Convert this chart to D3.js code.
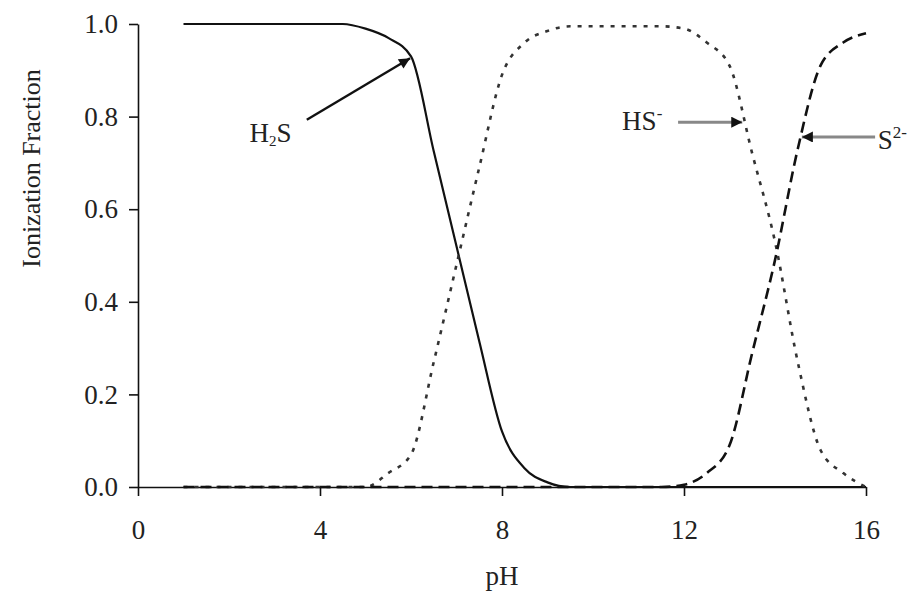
<!DOCTYPE html>
<html>
<head>
<meta charset="utf-8">
<script src="https://cdn.jsdelivr.net/npm/d3@7/dist/d3.min.js"></script>
<style>
  html, body { margin: 0; padding: 0; background: #fff; }
  svg { display: block; font-family: "Liberation Serif", "DejaVu Serif", serif; }
  .axis path, .axis line { stroke: #111; stroke-width: 1.6; }
  .axis text { fill: #222; font-size: 27px; font-family: "Liberation Serif", serif; }
</style>
</head>
<body>
<div id="chart"></div>
<script>
// 读图估计的数据（pH 每 0.5 一个点）
const pH = [1, 1.5, 2, 2.5, 3, 3.5, 4, 4.5, 5, 5.5, 6, 6.5, 7, 7.5, 8, 8.5, 9, 9.5,
  10, 10.5, 11, 11.5, 12, 12.5, 13, 13.5, 14, 14.5, 15, 15.5, 16];
const h2s = [1, 1, 1, 1, 1, 1, 1, 1, 0.99, 0.97, 0.93, 0.725, 0.52, 0.315, 0.12, 0.04, 0.01, 0,
  0, 0, 0, 0, 0, 0, 0, 0, 0, 0, 0, 0, 0];
const hs = [0, 0, 0, 0, 0, 0, 0, 0, 0, 0.03, 0.07, 0.27, 0.48, 0.69, 0.89, 0.96, 0.985, 0.995,
  0.995, 0.995, 0.995, 0.995, 0.99, 0.96, 0.91, 0.72, 0.53, 0.27, 0.08, 0.03, 0];
const s2 = [0, 0, 0, 0, 0, 0, 0, 0, 0, 0, 0, 0, 0, 0, 0, 0, 0, 0,
  0, 0, 0, 0, 0.005, 0.03, 0.09, 0.29, 0.49, 0.73, 0.91, 0.96, 0.98];
const xTicks = [0, 4, 8, 12, 16];
const yTicks = [0, 0.2, 0.4, 0.6, 0.8, 1.0];

const W = 913, H = 600;
const svg = d3.select('#chart').append('svg').attr('width', W).attr('height', H);
const x = d3.scaleLinear().domain([0, 16]).range([138, 866]);
const y = d3.scaleLinear().domain([0, 1]).range([487, 24]);

// 坐标轴
svg.append('g').attr('class', 'axis').attr('transform', `translate(0,${y(0)})`)
  .call(d3.axisBottom(x).tickValues(xTicks).tickSize(9).tickSizeOuter(0).tickPadding(24));
svg.append('g').attr('class', 'axis').attr('transform', `translate(${x(0)},0)`)
  .call(d3.axisLeft(y).tickValues(yTicks).tickFormat(d3.format('.1f')).tickSize(9).tickSizeOuter(0).tickPadding(11));

svg.append('text').attr('x', x(8)).attr('y', 585).attr('text-anchor', 'middle')
  .attr('font-size', 27).attr('fill', '#222').text('pH');
svg.append('text').attr('transform', `translate(40,${(67 + 270) / 2}) rotate(-90)`)
  .attr('text-anchor', 'middle').attr('font-size', 26).attr('fill', '#222').text('Ionization Fraction');

// 曲线
const line = d3.line().x((d) => x(d[0])).y((d) => y(d[1])).curve(d3.curveMonotoneX);
const series = [
  { vals: h2s, dash: null, width: 2.2, color: '#111' },
  { vals: hs, dash: '4,7', width: 2.6, color: '#333' },
  { vals: s2, dash: '11,6', width: 2.6, color: '#111' },
];
series.forEach((s) => {
  svg.append('path').datum(pH.map((p, i) => [p, s.vals[i]]))
    .attr('fill', 'none').attr('stroke', s.color).attr('stroke-width', s.width)
    .attr('stroke-dasharray', s.dash).attr('d', line);
});

// 箭头标注
const defs = svg.append('defs');
defs.append('marker').attr('id', 'arrow').attr('viewBox', '0 0 10 10')
  .attr('refX', 10).attr('refY', 5).attr('markerUnits', 'userSpaceOnUse')
  .attr('markerWidth', 15).attr('markerHeight', 11).attr('orient', 'auto')
  .append('path').attr('d', 'M0,0 L10,5 L0,10 Z').attr('fill', '#111');

const notes = [
  { from: [3.71, 0.793], to: [5.98, 0.926], shaft: '#111', w: 2.4 },
  { from: [11.87, 0.788], to: [13.28, 0.788], shaft: '#888', w: 3 },
  { from: [16.2, 0.756], to: [14.59, 0.756], shaft: '#888', w: 3 },
];
notes.forEach((n) => {
  svg.append('line').attr('x1', x(n.from[0])).attr('y1', y(n.from[1]))
    .attr('x2', x(n.to[0])).attr('y2', y(n.to[1]))
    .attr('stroke', n.shaft).attr('stroke-width', n.w).attr('marker-end', 'url(#arrow)');
});

function label(px, py, base, sub, sup) {
  const t = svg.append('text').attr('x', x(px)).attr('y', y(py))
    .attr('font-size', 27).attr('fill', '#222');
  t.append('tspan').text(base);
  if (sub) {
    t.append('tspan').attr('font-size', 15).attr('dy', 4).text(sub);
    t.append('tspan').attr('dy', -4).text('S');
  }
  if (sup) t.append('tspan').attr('font-size', 17).attr('dy', -11).text(sup);
}
label(2.45, 0.745, 'H', '2', null);
label(10.64, 0.77, 'HS', null, '-');
label(16.26, 0.73, 'S', null, '2-');
</script>
</body>
</html>
